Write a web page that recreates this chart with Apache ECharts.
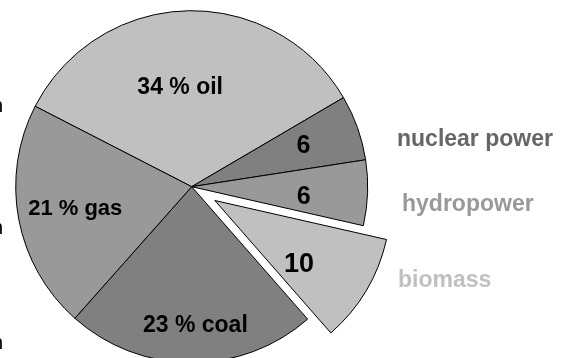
<!DOCTYPE html>
<html>
<head>
<meta charset="utf-8">
<style>
  html, body { margin: 0; padding: 0; background: #fff; }
  #chart { width: 564px; height: 358px; }
</style>
<script src="https://cdn.jsdelivr.net/npm/echarts@6/dist/echarts.min.js"></script>
</head>
<body>
<div id="chart"></div>
<script>
// Energy mix shares, in percent, drawn clockwise from the top-left
const sources = ['oil', 'nuclear power', 'hydropower', 'biomass', 'coal', 'gas'];
const shares = [34, 6, 6, 10, 23, 21];
// Which slices carry the "NN % name" label (others show only the number)
const namedLabel = [true, false, false, false, true, true];
// Slice that is pulled out of the pie
const explodedSource = 'biomass';
// Names listed at the right-hand side
const sideNames = ['nuclear power', 'hydropower', 'biomass'];

// Styling (kept apart from the data)
const sliceColors = ['#c0c0c0', '#808080', '#999999', '#c0c0c0', '#808080', '#999999'];
const labelSizes = [23, 25, 25, 27, 23, 22];
const labelOffsets = [[-9, -8], [26, -10], [21, 7], [6, 17], [4, 48], [-27, 5]];
const sideColors = ['#666666', '#999999', '#c0c0c0'];
const sideY = [141, 206, 282];
const sideX = [397, 402, 398];
const FONT = '"Liberation Sans", Arial, Helvetica, sans-serif';

const chart = echarts.init(document.getElementById('chart'), null, { renderer: 'canvas' });

const pieData = sources.map((name, i) => {
  const label = {
    formatter: namedLabel[i] ? '{c} % {b}' : '{c}',
    fontSize: labelSizes[i],
    offset: labelOffsets[i]
  };
  return {
    name: name,
    value: shares[i],
    selected: name === explodedSource,
    itemStyle: { color: sliceColors[i] },
    label: label,
    select: { label: label }
  };
});

const sideTexts = sideNames.map((name, i) => ({
  type: 'text',
  left: sideX[i],
  top: sideY[i] - 13,
  style: {
    text: name,
    fill: sideColors[i],
    font: 'bold 23px ' + FONT
  }
}));

// Partial axis-title letters clipped by the left edge
const edgeTexts = [108, 230, 345].map(y => ({
  type: 'text',
  x: -8,
  y: y - 12,
  style: { text: 'n', fill: '#000', font: '20px ' + FONT }
}));

chart.setOption({
  animation: false,
  backgroundColor: '#ffffff',
  graphic: sideTexts.concat(edgeTexts),
  series: [{
    type: 'pie',
    center: [191.7, 186.7],
    radius: [0, 176],
    startAngle: 152.8,
    clockwise: true,
    selectedMode: 'single',
    selectedOffset: 27,
    avoidLabelOverlap: false,
    emphasis: { disabled: true },
    itemStyle: { borderColor: '#000', borderWidth: 1 },
    label: {
      show: true,
      position: 'inside',
      color: '#000',
      fontWeight: 'bold',
      fontFamily: FONT
    },
    labelLine: { show: false },
    data: pieData
  }]
});
</script>
</body>
</html>
